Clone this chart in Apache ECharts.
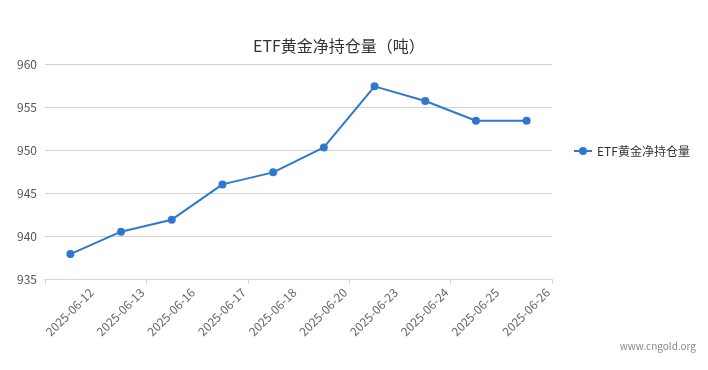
<!DOCTYPE html>
<html>
<head>
<meta charset="utf-8">
<script src="https://cdn.jsdelivr.net/npm/echarts@6/dist/echarts.min.js"></script>
<style>html,body{margin:0;padding:0;background:#fff}#c{width:708px;height:370px}</style>
</head>
<body>
<div id="c"></div>
<script>
const categories = ['2025-06-12','2025-06-13','2025-06-16','2025-06-17','2025-06-18','2025-06-20','2025-06-23','2025-06-24','2025-06-25','2025-06-26'];
const holdings = [937.9, 940.5, 941.9, 946.0, 947.4, 950.3, 957.4, 955.7, 953.4, 953.4];
const seriesName = 'ETF黄金净持仓量';
const titleText = 'ETF黄金净持仓量（吨）';
const yTicks = { min: 935, max: 960, interval: 5 };
const watermark = 'www.cngold.org';

const FONT = '"Microsoft YaHei", "Noto Sans CJK SC", sans-serif';
const LINE = '#2f78d2';

const chart = echarts.init(document.getElementById('c'), null, { renderer: 'canvas' });
chart.setOption({
  animation: false,
  backgroundColor: '#fff',
  textStyle: { fontFamily: FONT },
  title: {
    text: titleText,
    left: 248, top: 33,
    textStyle: { fontSize: 16, fontWeight: 'normal', color: '#333', fontFamily: FONT }
  },
  legend: {
    orient: 'vertical',
    left: 568, top: 140,
    itemWidth: 18, itemHeight: 10, itemGap: 10,
    textStyle: { fontSize: 12, color: '#333', fontFamily: FONT },
    data: [seriesName]
  },
  grid: { left: 45, right: 156, top: 64, bottom: 91, containLabel: false },
  xAxis: [
    {
      type: 'category',
      data: categories,
      boundaryGap: true,
      axisLine: { lineStyle: { color: '#c9d9e6', width: 1 } },
      axisTick: { show: true, length: 5, lineStyle: { color: '#c9d9e6' } },
      axisLabel: { show: false },
      splitLine: { show: false }
    },
    {
      type: 'category',
      position: 'bottom',
      data: [''].concat(categories),
      boundaryGap: false,
      axisLine: { show: false },
      axisTick: { show: false },
      axisLabel: { show: true, interval: 0, rotate: 45, margin: 7, padding: [0, 6, 0, 0], fontSize: 12, color: '#666', fontFamily: FONT },
      splitLine: { show: false }
    }
  ],
  yAxis: {
    type: 'value',
    min: yTicks.min, max: yTicks.max, interval: yTicks.interval,
    axisLine: { show: false },
    axisTick: { show: false },
    axisLabel: { margin: 8, fontSize: 12, color: '#555', fontFamily: FONT },
    splitLine: { lineStyle: { color: '#d2d2d2', width: 1 } }
  },
  graphic: [{
    type: 'text',
    right: 12, top: 341,
    style: { text: watermark, fontSize: 10, fill: '#888', fontFamily: FONT }
  }],
  series: [{
    name: seriesName,
    type: 'line',
    xAxisIndex: 0,
    data: holdings,
    symbol: 'circle',
    symbolSize: 8,
    lineStyle: { color: LINE, width: 2 },
    itemStyle: { color: LINE },
    emphasis: { disabled: true }
  }]
});
</script>
</body>
</html>
